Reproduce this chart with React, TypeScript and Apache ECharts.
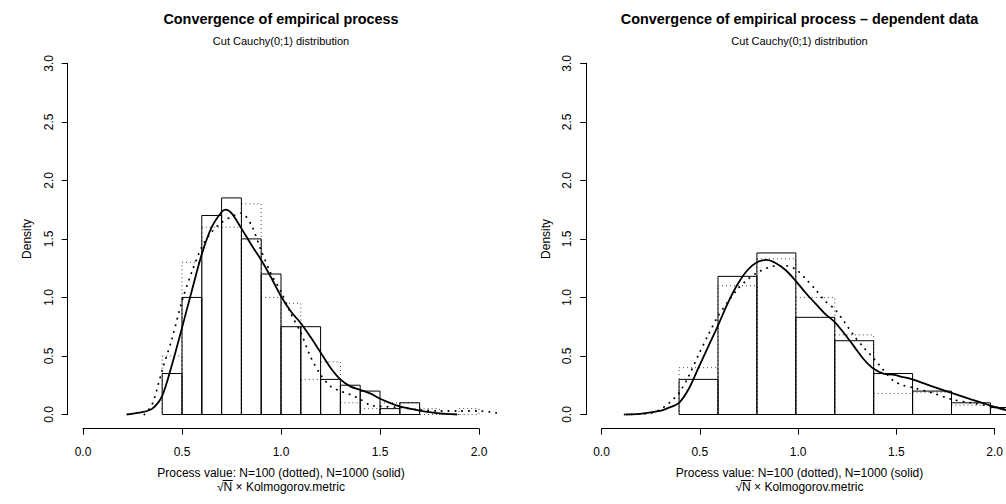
import React, { useEffect, useRef } from "react";
import * as echarts from "echarts";

const FONT = "'Liberation Sans', Arial, Helvetica, sans-serif";

// ---------- Left panel: independent data (bin width 0.1) ----------
const leftSolidBreaks = [0.4, 0.5, 0.6, 0.7, 0.8, 0.9, 1.0, 1.1, 1.2, 1.3, 1.4, 1.5, 1.6, 1.7];
const leftSolidDensity = [0.35, 1.0, 1.7, 1.85, 1.5, 1.2, 0.75, 0.75, 0.3, 0.25, 0.2, 0.05, 0.1];
const leftDottedBreaks = [0.4, 0.5, 0.6, 0.7, 0.8, 0.9, 1.0, 1.1, 1.2, 1.3, 1.4, 1.5, 1.6, 1.7, 1.8, 1.9, 2.0];
const leftDottedDensity = [0.5, 1.3, 1.6, 1.6, 1.8, 1.0, 0.95, 0.3, 0.45, 0.1, 0.05, 0.1, 0.1, 0.05, 0.0, 0.05];

const leftSolidKdeX = [0.22, 0.3, 0.35, 0.4, 0.45, 0.5, 0.55, 0.6, 0.65, 0.7, 0.72, 0.75, 0.8, 0.85, 0.9, 0.95, 1.0, 1.05, 1.1, 1.15, 1.2, 1.25, 1.3, 1.35, 1.4, 1.45, 1.5, 1.55, 1.6, 1.65, 1.7, 1.75, 1.8, 1.89];
const leftSolidKdeY = [0.0, 0.02, 0.05, 0.16, 0.43, 0.74, 1.06, 1.37, 1.6, 1.73, 1.75, 1.72, 1.59, 1.45, 1.32, 1.17, 1.01, 0.88, 0.78, 0.66, 0.53, 0.4, 0.3, 0.24, 0.21, 0.18, 0.135, 0.1, 0.07, 0.05, 0.034, 0.02, 0.01, 0.0];
const leftDottedKdeX = [0.31, 0.35, 0.4, 0.45, 0.5, 0.55, 0.6, 0.65, 0.7, 0.75, 0.8, 0.85, 0.9, 0.95, 1.0, 1.05, 1.1, 1.15, 1.2, 1.25, 1.3, 1.35, 1.4, 1.45, 1.5, 1.6, 1.7, 1.8, 1.9, 2.0, 2.1];
const leftDottedKdeY = [0.0, 0.09, 0.38, 0.65, 0.97, 1.22, 1.43, 1.56, 1.64, 1.69, 1.72, 1.62, 1.4, 1.2, 1.05, 0.86, 0.7, 0.49, 0.34, 0.24, 0.2, 0.17, 0.13, 0.08, 0.07, 0.06, 0.04, 0.03, 0.03, 0.03, 0.01];

// ---------- Right panel: dependent data (bin width 0.2) ----------
const rightBreaks = [0.4, 0.6, 0.8, 1.0, 1.2, 1.4, 1.6, 1.8, 2.0, 2.2];
const rightSolidDensity = [0.3, 1.18, 1.38, 0.83, 0.63, 0.35, 0.2, 0.1, 0.06];
const rightDottedDensity = [0.4, 1.1, 1.33, 1.0, 0.68, 0.18, 0.19, 0.08, 0.05];

const rightSolidKdeX = [0.125, 0.2, 0.3, 0.35, 0.4, 0.45, 0.5, 0.55, 0.6, 0.65, 0.7, 0.75, 0.8, 0.85, 0.9, 0.95, 1.0, 1.05, 1.1, 1.15, 1.2, 1.25, 1.3, 1.35, 1.4, 1.45, 1.5, 1.55, 1.6, 1.7, 1.8, 1.9, 2.0, 2.05, 2.1];
const rightSolidKdeY = [0.0, 0.005, 0.03, 0.06, 0.1, 0.22, 0.4, 0.58, 0.76, 0.95, 1.11, 1.23, 1.3, 1.32, 1.29, 1.23, 1.14, 1.04, 0.95, 0.86, 0.79, 0.69, 0.58, 0.47, 0.39, 0.35, 0.34, 0.32, 0.3, 0.24, 0.185, 0.13, 0.077, 0.05, 0.03];
const rightDottedKdeX = [0.12, 0.25, 0.3, 0.35, 0.4, 0.45, 0.5, 0.55, 0.6, 0.65, 0.7, 0.75, 0.8, 0.85, 0.9, 0.95, 1.0, 1.05, 1.1, 1.15, 1.2, 1.25, 1.3, 1.35, 1.4, 1.45, 1.5, 1.55, 1.6, 1.7, 1.8, 1.9, 2.0, 2.1];
const rightDottedKdeY = [0.0, 0.01, 0.04, 0.1, 0.185, 0.33, 0.51, 0.68, 0.84, 0.96, 1.07, 1.15, 1.21, 1.25, 1.27, 1.27, 1.24, 1.16, 1.07, 0.97, 0.9, 0.79, 0.67, 0.57, 0.48, 0.38, 0.29, 0.25, 0.23, 0.185, 0.13, 0.1, 0.07, 0.05];

const titles = ["Convergence of empirical process", "Convergence of empirical process \u2013 dependent data"];
const subtitle = "Cut Cauchy(0;1) distribution";
const xLabel1 = "Process value: N=100 (dotted), N=1000 (solid)";
const xLabel2 = "\u221AN \u00D7 Kolmogorov.metric";
const yLabel = "Density";

const xTickMin = 0, xTickMax = 2, xTickStep = 0.5;
const yTickMin = 0, yTickMax = 3, yTickStep = 0.5;

function bins(breaks: number[], dens: number[]) {
  return dens.map((d, i) => [breaks[i], breaks[i + 1], d]);
}
function pts(xs: number[], ys: number[]) {
  return xs.map((x, i) => [x, ys[i]]);
}

export default function App() {
  const ref = useRef<HTMLDivElement>(null);
  useEffect(() => {
    document.body.style.margin = "0";
    const chart = echarts.init(ref.current!, null, { renderer: "svg" });

    // geometry (R-like plot region with 4% extension)
    const X0 = 83, UX = 198; // pixel of x=0 and px per unit
    const Y0 = 414.5, UY = 117.07; // pixel of y=0 and px per unit
    const dataLeft = X0 - 0.08 * UX;
    const dataTop = Y0 - 3.12 * UY;
    const dataH = 3.24 * UY;
    const dataW = 2.16 * UX;
    const offsets = [0, 518.5];

    const panelData = [
      {
        solid: bins(leftSolidBreaks, leftSolidDensity),
        dotted: bins(leftDottedBreaks, leftDottedDensity),
        kdeS: pts(leftSolidKdeX, leftSolidKdeY),
        kdeD: pts(leftDottedKdeX, leftDottedKdeY),
      },
      {
        solid: bins(rightBreaks, rightSolidDensity),
        dotted: bins(rightBreaks, rightDottedDensity),
        kdeS: pts(rightSolidKdeX, rightSolidKdeY),
        kdeD: pts(rightDottedKdeX, rightDottedKdeY),
      },
    ];

    const grid: any[] = [];
    const xAxis: any[] = [];
    const yAxis: any[] = [];
    const series: any[] = [];
    const graphic: any[] = [];

    const histRender = (dotted: boolean) => (params: any, api: any) => {
      const a = api.coord([api.value(0), 0]);
      const b = api.coord([api.value(1), api.value(2)]);
      return {
        type: "rect",
        shape: { x: a[0], y: b[1], width: b[0] - a[0], height: a[1] - b[1] },
        style: {
          fill: "none",
          stroke: dotted ? "#444" : "#000",
          lineWidth: 1,
          lineDash: dotted ? [1, 3] : null,
        },
      };
    };

    const measure = document.createElement("canvas").getContext("2d")!;
    measure.font = `12px ${FONT}`;

    offsets.forEach((o, p) => {
      const g = p * 3;
      grid.push({ left: dataLeft + o, top: dataTop, width: dataW, height: dataH });
      grid.push({ left: X0 + o, top: dataTop, width: (xTickMax - xTickMin) * UX, height: dataH });
      grid.push({ left: dataLeft + o + 0.5, top: Y0 - 3 * UY, width: dataW, height: 3 * UY });

      xAxis.push({ type: "value", gridIndex: g, min: -0.08, max: 2.08, show: false });
      yAxis.push({ type: "value", gridIndex: g, min: -0.12, max: 3.12, show: false });

      xAxis.push({
        type: "value",
        gridIndex: g + 1,
        min: xTickMin,
        max: xTickMax,
        interval: xTickStep,
        position: "bottom",
        axisLine: { show: true, onZero: false, lineStyle: { color: "#000", width: 1 } },
        axisTick: { show: true, length: 6, lineStyle: { color: "#000", width: 1 } },
        axisLabel: { show: true, margin: 17, color: "#000", fontSize: 12, fontFamily: FONT, formatter: (v: number) => v.toFixed(1) },
        splitLine: { show: false },
      });
      yAxis.push({ type: "value", gridIndex: g + 1, min: 0, max: 1, show: false });

      xAxis.push({ type: "value", gridIndex: g + 2, min: 0, max: 1, show: false });
      yAxis.push({
        type: "value",
        gridIndex: g + 2,
        min: yTickMin,
        max: yTickMax,
        interval: yTickStep,
        position: "left",
        axisLine: { show: true, onZero: false, lineStyle: { color: "#000", width: 1 } },
        axisTick: { show: true, length: 6, lineStyle: { color: "#000", width: 1 } },
        axisLabel: { show: true, rotate: 90, margin: 13, color: "#000", fontSize: 12, fontFamily: FONT, formatter: (v: number) => v.toFixed(1) },
        splitLine: { show: false },
      });

      const d = panelData[p];
      series.push({
        type: "custom",
        xAxisIndex: g,
        yAxisIndex: g,
        clip: true,
        silent: true,
        renderItem: histRender(true),
        encode: { x: [0, 1], y: 2 },
        data: d.dotted,
      });
      series.push({
        type: "custom",
        xAxisIndex: g,
        yAxisIndex: g,
        clip: true,
        silent: true,
        renderItem: histRender(false),
        encode: { x: [0, 1], y: 2 },
        data: d.solid,
      });
      series.push({
        type: "line",
        xAxisIndex: g,
        yAxisIndex: g,
        data: d.kdeD,
        symbol: "none",
        smooth: 0.3,
        clip: true,
        silent: true,
        lineStyle: { color: "#000", width: 1.8, type: [0.3, 6.5], cap: "round" },
      });
      series.push({
        type: "line",
        xAxisIndex: g,
        yAxisIndex: g,
        data: d.kdeS,
        symbol: "none",
        smooth: 0.3,
        clip: true,
        silent: true,
        lineStyle: { color: "#000", width: 1.8 },
      });

      const cx = dataLeft + o + dataW / 2;
      graphic.push({
        type: "text",
        x: cx,
        y: 19,
        style: { text: titles[p], fontSize: 14.4, fontWeight: "bold", fontFamily: FONT, fill: "#000", align: "center", verticalAlign: "middle", textAlign: "center", textVerticalAlign: "middle" },
      });
      graphic.push({
        type: "text",
        x: cx,
        y: 41,
        style: { text: subtitle, fontSize: 11, fontFamily: FONT, fill: "#000", align: "center", verticalAlign: "middle", textAlign: "center", textVerticalAlign: "middle" },
      });
      graphic.push({
        type: "text",
        x: cx,
        y: 473,
        style: { text: xLabel1, fontSize: 12, fontFamily: FONT, fill: "#000", align: "center", verticalAlign: "middle", textAlign: "center", textVerticalAlign: "middle" },
      });
      const w = measure.measureText(xLabel2).width;
      const wRad = measure.measureText("\u221A").width;
      const wRadN = measure.measureText("\u221AN").width;
      const sx = cx - w / 2;
      graphic.push({
        type: "text",
        x: sx,
        y: 487,
        style: { text: xLabel2, fontSize: 12, fontFamily: FONT, fill: "#000", align: "left", verticalAlign: "middle", textAlign: "left", textVerticalAlign: "middle" },
      });
      graphic.push({
        type: "line",
        shape: { x1: sx + wRad - 1, y1: 480.5, x2: sx + wRadN + 0.5, y2: 480.5 },
        style: { stroke: "#000", lineWidth: 1 },
      });
      graphic.push({
        type: "text",
        x: 27 + o,
        y: Y0 - 1.5 * UY,
        rotation: Math.PI / 2,
        style: { text: yLabel, fontSize: 12, fontFamily: FONT, fill: "#000", align: "center", verticalAlign: "middle", textAlign: "center", textVerticalAlign: "middle" },
      });
    });

    chart.setOption({
      animation: false,
      backgroundColor: "#fff",
      grid,
      xAxis,
      yAxis,
      series,
      graphic,
    });
    return () => chart.dispose();
  }, []);
  return <div ref={ref} style={{ width: 1006, height: 504 }} />;
}
